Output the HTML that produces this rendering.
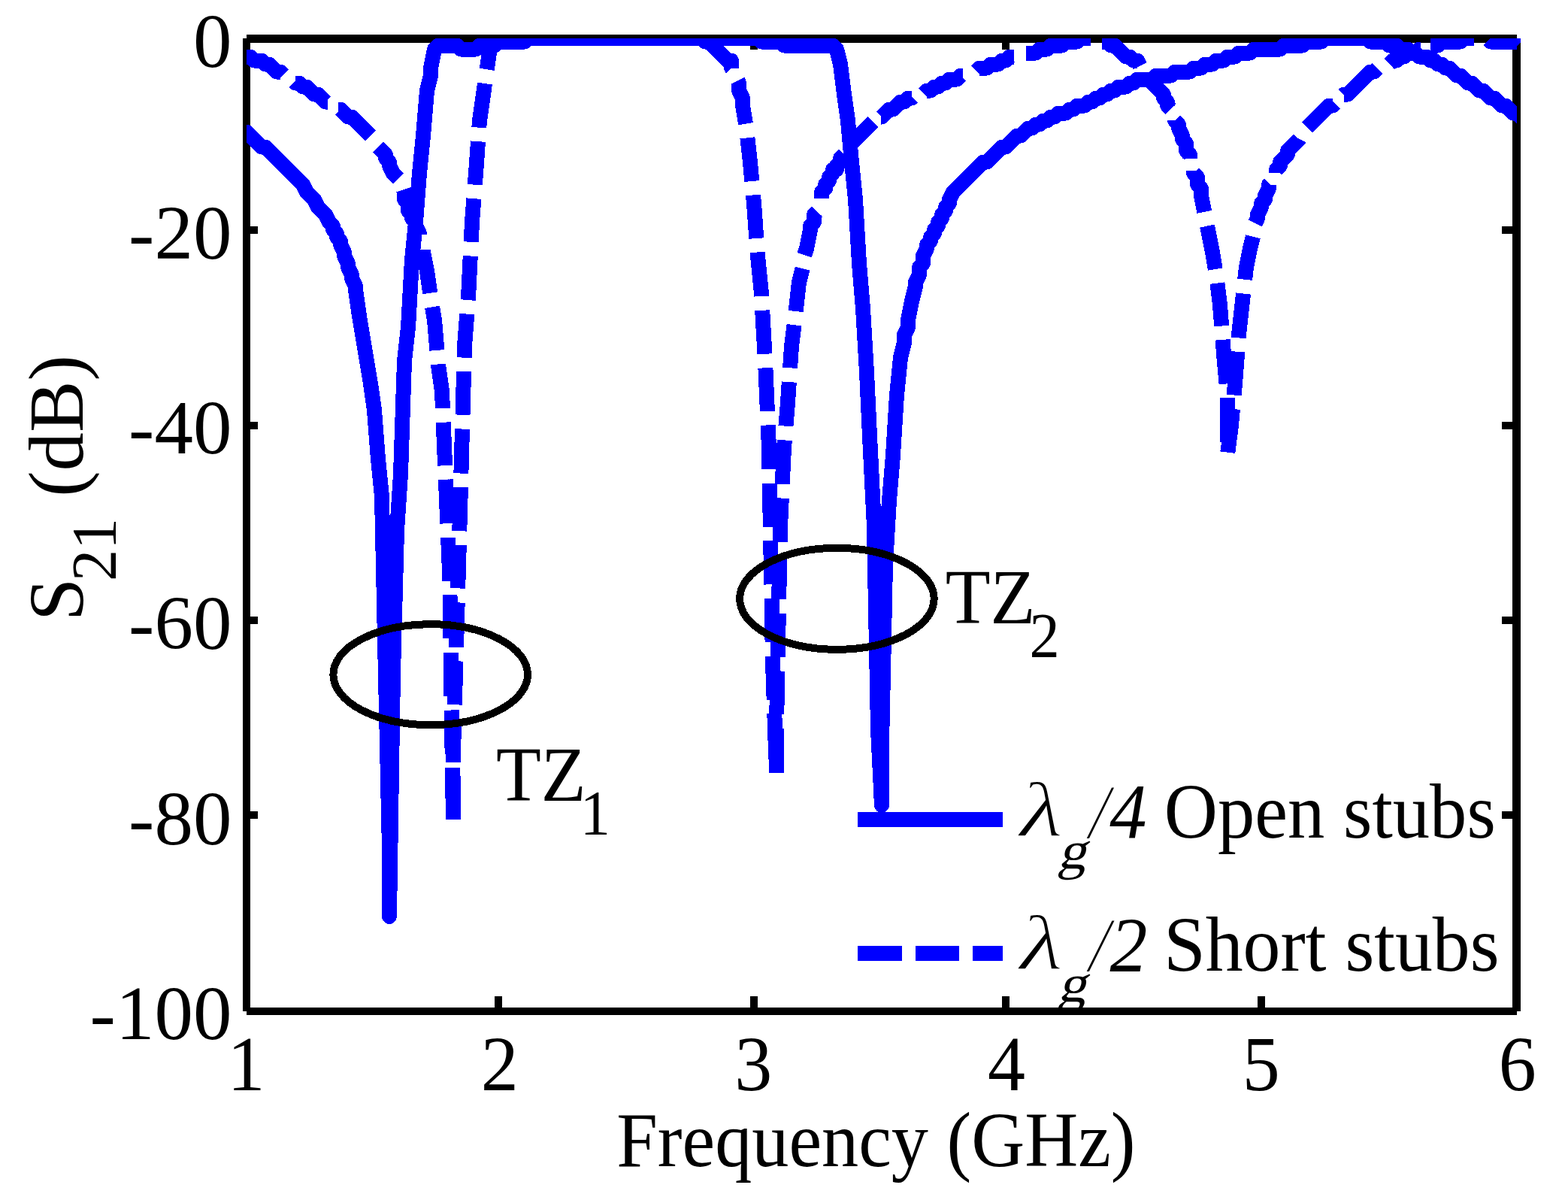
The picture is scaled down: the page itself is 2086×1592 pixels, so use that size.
<!DOCTYPE html>
<html lang="en"><head><meta charset="utf-8">
<style>
html,body{margin:0;padding:0;background:#fff;}
body{width:2086px;height:1592px;overflow:hidden;}
svg{display:block;}
text{font-family:"Liberation Serif","DejaVu Serif",serif;fill:#000;}
.t{font-size:100px;}
.s{font-size:82px;}
.i{font-style:italic;}
</style></head><body>
<svg width="2086" height="1592" viewBox="0 0 2086 1592">
<rect x="0" y="0" width="2086" height="1592" fill="#fff"/>
<defs><clipPath id="ax"><rect x="328" y="51" width="1690" height="1294"/></clipPath><clipPath id="lg"><rect x="328" y="51" width="1690" height="1294"/></clipPath></defs>
<g clip-path="url(#lg)">
<text class="t i" transform="translate(1356.4,1111.6) scale(1.34,1.045)" stroke="#fff" stroke-width="2.2" vector-effect="non-scaling-stroke">λ</text>
<text class="t" transform="translate(1406.7,1154.9) skewX(-14) scale(0.76,0.71)">g</text>
<text class="t" transform="translate(1448.8,1113.8) scale(0.986,1.03)"><tspan class="i" x="0" y="1" stroke="#fff" stroke-width="1.8">/</tspan><tspan class="i" y="1">4</tspan> <tspan x="101.5" y="0">Open stubs</tspan></text>
<text class="t i" transform="translate(1356.4,1289.0) scale(1.34,1.045)" stroke="#fff" stroke-width="2.2" vector-effect="non-scaling-stroke">λ</text>
<text class="t" transform="translate(1406.7,1332.3) skewX(-14) scale(0.76,0.71)">g</text>
<text class="t" transform="translate(1448.8,1291.2) scale(0.998,1.03)"><tspan class="i" x="0" y="1" stroke="#fff" stroke-width="1.8">/</tspan><tspan class="i" y="1">2</tspan> <tspan x="99.6" y="0">Short stubs</tspan></text>
</g>
<g shape-rendering="crispEdges" fill="#000">
<rect x="323" y="51" width="10" height="1294"/>
<rect x="328" y="46" width="1690" height="11"/>
<rect x="2012" y="51" width="11" height="1294"/>
<rect x="328" y="1340" width="1690" height="10"/>
<rect x="658" y="1325" width="10" height="16"/>
<rect x="658" y="56" width="10" height="10"/>
<rect x="998" y="1325" width="10" height="16"/>
<rect x="998" y="56" width="10" height="10"/>
<rect x="1333" y="1325" width="10" height="16"/>
<rect x="1333" y="56" width="10" height="10"/>
<rect x="1673" y="1325" width="10" height="16"/>
<rect x="1673" y="56" width="10" height="10"/>
<rect x="332" y="301" width="11" height="10"/>
<rect x="1998" y="301" width="15" height="10"/>
<rect x="332" y="561" width="11" height="10"/>
<rect x="1998" y="561" width="15" height="10"/>
<rect x="332" y="820" width="11" height="10"/>
<rect x="1998" y="820" width="15" height="10"/>
<rect x="332" y="1079" width="11" height="10"/>
<rect x="1998" y="1079" width="15" height="10"/>
</g>
<g clip-path="url(#ax)" fill="none" stroke="#0000ff" stroke-width="20" stroke-linejoin="round" shape-rendering="crispEdges">
<path d="M323.0,175.5 L328.0,175.5 L333.0,180.5 L338.0,185.5 L343.0,190.5 L348.0,195.5 L353.0,195.5 L358.0,200.5 L363.0,205.5 L368.0,210.5 L373.0,215.5 L378.0,220.5 L383.0,225.5 L388.0,230.5 L393.0,235.5 L398.0,240.5 L403.0,245.5 L408.0,255.5 L413.0,260.5 L418.0,265.5 L423.0,275.5 L428.0,280.5 L433.0,285.5 L438.0,295.5 L443.0,300.5 L443.0,305.5 L448.0,310.5 L448.0,315.5 L453.0,320.5 L453.0,325.5 L458.0,335.5 L458.0,340.5 L463.0,350.5 L463.0,355.5 L468.0,365.5 L468.0,370.5 L473.0,380.5 L473.0,385.5 L478.0,420.5 L483.0,450.5 L488.0,480.5 L493.0,510.5 L498.0,545.5 L503.0,610.5 L508.0,660.5 L513.0,900.5 L518.0,1130.5 L518.0,1219.0 L523.0,895.5 L528.0,705.5 L533.0,630.5 L538.0,480.5 L543.0,435.5 L548.0,345.5 L553.0,295.5 L558.0,230.5 L563.0,180.5 L568.0,120.5 L573.0,100.5 L573.0,90.5 L578.0,65.5 L583.0,60.5 L588.0,60.5 L593.0,60.5 L598.0,60.5 L603.0,60.5 L608.0,60.5 L613.0,65.5 L618.0,65.5 L623.0,65.5 L628.0,65.5 L633.0,65.5 L638.0,60.5 L643.0,60.5 L648.0,60.5 L653.0,60.5 L658.0,60.5 L663.0,55.5 L668.0,55.5 L673.0,55.5 L678.0,55.5 L683.0,55.5 L688.0,55.5 L693.0,55.5 L698.0,55.5 L703.0,50.5 L708.0,50.5 L713.0,50.5 L718.0,50.5 L723.0,50.5 L728.0,50.5 L733.0,50.5 L738.0,50.5 L743.0,50.5 L748.0,50.5 L753.0,50.5 L758.0,50.5 L763.0,50.5 L768.0,50.5 L773.0,50.5 L778.0,50.5 L783.0,50.5 L788.0,50.5 L793.0,50.5 L798.0,50.5 L803.0,50.5 L808.0,50.5 L813.0,50.5 L818.0,50.5 L823.0,50.5 L828.0,50.5 L833.0,50.5 L838.0,50.5 L843.0,50.5 L848.0,50.5 L853.0,50.5 L858.0,50.5 L863.0,50.5 L868.0,50.5 L873.0,50.5 L878.0,50.5 L883.0,50.5 L888.0,50.5 L893.0,50.5 L898.0,50.5 L903.0,50.5 L908.0,50.5 L913.0,50.5 L918.0,50.5 L923.0,50.5 L928.0,50.5 L933.0,50.5 L938.0,50.5 L943.0,50.5 L948.0,50.5 L953.0,50.5 L958.0,50.5 L963.0,50.5 L968.0,50.5 L973.0,50.5 L978.0,50.5 L983.0,50.5 L988.0,50.5 L993.0,50.5 L998.0,50.5 L1003.0,50.5 L1008.0,50.5 L1013.0,55.5 L1018.0,55.5 L1023.0,55.5 L1028.0,55.5 L1033.0,55.5 L1038.0,55.5 L1043.0,60.5 L1048.0,60.5 L1053.0,60.5 L1058.0,60.5 L1063.0,60.5 L1068.0,60.5 L1073.0,60.5 L1078.0,60.5 L1083.0,60.5 L1088.0,60.5 L1093.0,60.5 L1098.0,60.5 L1103.0,60.5 L1108.0,60.5 L1113.0,65.5 L1118.0,85.5 L1123.0,125.5 L1128.0,160.5 L1133.0,215.5 L1138.0,265.5 L1143.0,350.5 L1148.0,410.5 L1153.0,495.5 L1158.0,600.5 L1163.0,700.5 L1168.0,970.5 L1173.0,1071.0 L1173.0,990.5 L1178.0,750.5 L1183.0,665.5 L1188.0,605.5 L1193.0,525.5 L1198.0,475.5 L1203.0,455.5 L1203.0,445.5 L1208.0,435.5 L1208.0,425.5 L1213.0,400.5 L1218.0,380.5 L1218.0,375.5 L1223.0,365.5 L1223.0,355.5 L1228.0,350.5 L1228.0,340.5 L1233.0,330.5 L1233.0,325.5 L1238.0,320.5 L1238.0,315.5 L1243.0,310.5 L1243.0,305.5 L1248.0,300.5 L1248.0,295.5 L1253.0,290.5 L1253.0,285.5 L1258.0,280.5 L1258.0,275.5 L1263.0,270.5 L1263.0,265.5 L1268.0,255.5 L1273.0,250.5 L1278.0,245.5 L1283.0,240.5 L1288.0,235.5 L1293.0,230.5 L1298.0,225.5 L1303.0,220.5 L1308.0,215.5 L1313.0,215.5 L1318.0,210.5 L1323.0,205.5 L1328.0,200.5 L1333.0,195.5 L1338.0,195.5 L1343.0,190.5 L1348.0,185.5 L1353.0,180.5 L1358.0,180.5 L1363.0,175.5 L1368.0,170.5 L1373.0,170.5 L1378.0,165.5 L1383.0,165.5 L1388.0,160.5 L1393.0,160.5 L1398.0,155.5 L1403.0,155.5 L1408.0,150.5 L1413.0,150.5 L1418.0,150.5 L1423.0,145.5 L1428.0,145.5 L1433.0,140.5 L1438.0,140.5 L1443.0,140.5 L1448.0,135.5 L1453.0,135.5 L1458.0,130.5 L1463.0,130.5 L1468.0,125.5 L1473.0,125.5 L1478.0,120.5 L1483.0,120.5 L1488.0,115.5 L1493.0,115.5 L1498.0,115.5 L1503.0,110.5 L1508.0,110.5 L1513.0,105.5 L1518.0,105.5 L1523.0,105.5 L1528.0,105.5 L1533.0,105.5 L1538.0,100.5 L1543.0,100.5 L1548.0,100.5 L1553.0,100.5 L1558.0,100.5 L1563.0,95.5 L1568.0,95.5 L1573.0,95.5 L1578.0,95.5 L1583.0,95.5 L1588.0,90.5 L1593.0,90.5 L1598.0,90.5 L1603.0,85.5 L1608.0,85.5 L1613.0,85.5 L1618.0,80.5 L1623.0,80.5 L1628.0,80.5 L1633.0,75.5 L1638.0,75.5 L1643.0,75.5 L1648.0,70.5 L1653.0,70.5 L1658.0,70.5 L1663.0,70.5 L1668.0,65.5 L1673.0,65.5 L1678.0,65.5 L1683.0,65.5 L1688.0,65.5 L1693.0,65.5 L1698.0,65.5 L1703.0,65.5 L1708.0,60.5 L1713.0,60.5 L1718.0,60.5 L1723.0,60.5 L1728.0,60.5 L1733.0,60.5 L1738.0,55.5 L1743.0,55.5 L1748.0,55.5 L1753.0,55.5 L1758.0,55.5 L1763.0,50.5 L1768.0,50.5 L1773.0,50.5 L1778.0,50.5 L1783.0,50.5 L1788.0,50.5 L1793.0,50.5 L1798.0,50.5 L1803.0,50.5 L1808.0,50.5 L1813.0,50.5 L1818.0,50.5 L1823.0,55.5 L1828.0,55.5 L1833.0,55.5 L1838.0,55.5 L1843.0,55.5 L1848.0,60.5 L1853.0,60.5 L1858.0,60.5 L1863.0,65.5 L1868.0,65.5 L1873.0,65.5 L1878.0,70.5 L1883.0,70.5 L1888.0,75.5 L1893.0,75.5 L1898.0,75.5 L1903.0,80.5 L1908.0,80.5 L1913.0,85.5 L1918.0,85.5 L1923.0,90.5 L1928.0,90.5 L1933.0,95.5 L1938.0,100.5 L1943.0,100.5 L1948.0,105.5 L1953.0,110.5 L1958.0,110.5 L1963.0,115.5 L1968.0,120.5 L1973.0,120.5 L1978.0,125.5 L1983.0,130.5 L1988.0,130.5 L1993.0,135.5 L1998.0,140.5 L2003.0,140.5 L2008.0,145.5 L2013.0,150.5 L2018.0,150.5 L2023.0,155.5 L2028.0,160.5"/>
<path d="M328.0,75.5 L328.0,75.5 L333.0,75.5 L338.0,80.5 L343.0,80.5 L348.0,80.5 L353.0,85.5 L358.0,85.5 L363.0,90.5 L368.0,95.5 L373.0,95.5 L378.0,100.5 L383.0,100.5 L388.0,105.5 L391.5,109.0" stroke-dasharray="58.6 18.8"/>
<path d="M391.5,109.0 L393.0,110.5 L398.0,110.5 L403.0,115.5 L408.0,115.5 L413.0,120.5 L418.0,125.5 L423.0,125.5 L428.0,130.5 L433.0,135.5 L438.0,135.5 L443.0,140.5 L448.0,145.5 L449.6,145.5" stroke-dasharray="55.5 17.7"/>
<path d="M449.6,145.5 L453.0,145.5 L458.0,150.5 L463.0,155.5 L468.0,155.5 L473.0,160.5 L478.0,165.5 L483.0,170.5 L488.0,175.5 L493.0,180.5 L498.0,185.5 L503.0,195.5 L503.2,195.7" stroke-dasharray="57.9 18.5"/>
<path d="M503.2,195.7 L508.0,200.5 L513.0,205.5 L513.0,210.5 L518.0,215.5 L518.0,220.5 L523.0,230.5 L528.0,235.5 L533.0,240.5 L536.9,252.2" stroke-dasharray="52.0 16.6"/>
<path d="M536.9,252.2 L538.0,255.5 L538.0,265.5 L543.0,270.5 L543.0,280.5 L548.0,285.5 L548.0,290.5 L553.0,295.5 L553.0,300.5 L558.0,310.5 L558.0,315.5 L563.0,325.5 L563.0,331.7" stroke-dasharray="66.9 21.4"/>
<path d="M563.0,331.7 L563.0,335.5 L568.0,360.5 L573.0,395.5 L575.1,408.3" stroke-dasharray="58.8 18.8"/>
<path d="M575.1,408.3 L578.0,425.5 L582.9,484.4" stroke-dasharray="58.0 18.6"/>
<path d="M582.9,484.4 L583.0,485.5 L588.0,520.5 L589.7,561.7" stroke-dasharray="58.9 18.8"/>
<path d="M589.7,561.7 L592.9,637.7" stroke-dasharray="57.6 18.4"/>
<path d="M592.9,637.7 L593.0,640.5 L596.1,715.0" stroke-dasharray="58.6 18.8"/>
<path d="M596.1,715.0 L598.0,760.5 L598.5,791.1" stroke-dasharray="57.7 18.5"/>
<path d="M598.5,791.1 L599.6,867.8" stroke-dasharray="58.1 18.6"/>
<path d="M599.6,867.8 L600.8,944.5" stroke-dasharray="58.1 18.6"/>
<path d="M600.8,944.5 L601.9,1021.2" stroke-dasharray="58.1 18.6"/>
<path d="M601.9,1021.2 L603.0,1094.4 L603.0,1090.3" stroke-dasharray="58.6 18.7"/>
<path d="M603.0,1090.3 L603.0,1013.8" stroke-dasharray="58.0 18.5"/>
<path d="M603.0,1013.8 L603.0,1000.5 L604.8,937.3" stroke-dasharray="58.0 18.5"/>
<path d="M604.8,937.3 L607.0,860.8" stroke-dasharray="58.0 18.5"/>
<path d="M607.0,860.8 L608.0,825.5 L609.2,782.4" stroke-dasharray="59.4 19.0"/>
<path d="M609.2,782.4 L611.3,706.3" stroke-dasharray="57.7 18.5"/>
<path d="M611.3,706.3 L613.0,645.5 L613.4,629.5" stroke-dasharray="58.2 18.6"/>
<path d="M613.4,629.5 L615.5,551.7" stroke-dasharray="59.0 18.9"/>
<path d="M615.5,551.7 L617.6,475.6" stroke-dasharray="57.7 18.5"/>
<path d="M617.6,475.6 L618.0,460.5 L622.7,399.1" stroke-dasharray="58.1 18.6"/>
<path d="M622.7,399.1 L623.0,395.5 L626.7,321.8" stroke-dasharray="58.7 18.8"/>
<path d="M626.7,321.8 L628.0,295.5 L631.8,245.7" stroke-dasharray="57.8 18.5"/>
<path d="M631.8,245.7 L633.0,230.5 L637.3,169.7" stroke-dasharray="57.7 18.5"/>
<path d="M637.3,169.7 L638.0,160.5 L643.0,125.5 L647.7,92.3" stroke-dasharray="59.2 18.9"/>
<path d="M647.7,92.3 L648.0,90.5 L653.0,55.5 L658.0,50.5 L663.0,50.5 L668.0,50.5 L673.0,50.5 L678.0,50.5 L683.0,50.5 L688.0,50.5 L693.0,50.5 L698.0,50.5 L703.0,50.5 L708.0,50.5 L713.0,50.5 L718.0,50.5 L723.0,50.5 L728.0,50.5 L733.0,50.5 L738.0,50.5 L743.0,50.5 L748.0,50.5 L753.0,50.5 L758.0,50.5 L763.0,50.5 L768.0,50.5 L773.0,50.5 L778.0,50.5 L783.0,50.5 L788.0,50.5 L793.0,50.5 L798.0,50.5 L803.0,50.5 L808.0,50.5 L813.0,50.5 L818.0,50.5 L823.0,50.5 L828.0,50.5 L833.0,50.5 L838.0,50.5 L843.0,50.5 L848.0,50.5 L853.0,50.5 L858.0,50.5 L863.0,50.5 L868.0,50.5 L873.0,50.5 L878.0,50.5 L883.0,50.5 L888.0,50.5 L893.0,50.5 L898.0,50.5 L903.0,50.5 L908.0,50.5 L913.0,50.5 L918.0,50.5 L923.0,50.5 L928.0,50.5 L933.0,50.5 L938.0,55.5 L943.0,55.5 L948.0,60.5 L953.0,65.5 L958.0,70.5 L963.0,75.5 L968.0,80.5 L973.0,80.5 L973.0,90.5 L978.0,95.5 L978.0,100.5 L981.4,107.3" stroke-dasharray="60.8 19.5"/>
<path d="M981.4,107.3 L983.0,110.5 L983.0,120.5 L988.0,130.5 L988.0,140.5 L993.0,170.5 L994.4,183.4" stroke-dasharray="59.2 18.9"/>
<path d="M994.4,183.4 L998.0,215.5 L1002.0,259.4" stroke-dasharray="57.9 18.5"/>
<path d="M1002.0,259.4 L1003.0,270.5 L1007.6,335.5" stroke-dasharray="57.8 18.5"/>
<path d="M1007.6,335.5 L1008.0,340.5 L1013.0,390.5 L1014.2,412.8" stroke-dasharray="58.8 18.8"/>
<path d="M1014.2,412.8 L1018.0,480.5 L1018.4,489.3" stroke-dasharray="58.1 18.6"/>
<path d="M1018.4,489.3 L1021.7,565.4" stroke-dasharray="57.7 18.5"/>
<path d="M1021.7,565.4 L1023.0,595.5 L1023.8,642.7" stroke-dasharray="58.6 18.7"/>
<path d="M1023.8,642.7 L1025.2,719.3" stroke-dasharray="58.1 18.6"/>
<path d="M1025.2,719.3 L1026.5,795.9" stroke-dasharray="58.1 18.6"/>
<path d="M1026.5,795.9 L1027.9,872.5" stroke-dasharray="58.1 18.6"/>
<path d="M1027.9,872.5 L1028.0,880.5 L1030.3,949.1" stroke-dasharray="58.1 18.6"/>
<path d="M1030.3,949.1 L1033.0,1028.5 L1033.0,1027.7" stroke-dasharray="60.8 19.4"/>
<path d="M1033.0,1027.7 L1033.0,965.5 L1033.3,950.0" stroke-dasharray="58.9 18.8"/>
<path d="M1033.3,950.0 L1034.7,874.0" stroke-dasharray="57.6 18.4"/>
<path d="M1034.7,874.0 L1036.2,797.3" stroke-dasharray="58.1 18.6"/>
<path d="M1036.2,797.3 L1037.6,720.6" stroke-dasharray="58.1 18.6"/>
<path d="M1037.6,720.6 L1038.0,700.5 L1040.7,644.0" stroke-dasharray="58.1 18.6"/>
<path d="M1040.7,644.0 L1043.0,595.5 L1045.4,566.7" stroke-dasharray="58.7 18.8"/>
<path d="M1045.4,566.7 L1048.0,535.5 L1051.1,489.3" stroke-dasharray="58.8 18.8"/>
<path d="M1051.1,489.3 L1053.0,460.5 L1058.0,420.5 L1058.7,414.0" stroke-dasharray="57.4 18.4"/>
<path d="M1058.7,414.0 L1063.0,375.5 L1068.0,355.5 L1068.0,345.5 L1070.1,339.2" stroke-dasharray="57.6 18.4"/>
<path d="M1070.1,339.2 L1073.0,330.5 L1078.0,305.5 L1078.0,300.5 L1083.0,295.5 L1083.0,285.5 L1088.0,280.5 L1088.0,270.5 L1093.0,265.5 L1093.0,264.4" stroke-dasharray="62.1 19.9"/>
<path d="M1093.0,264.4 L1093.0,255.5 L1098.0,250.5 L1098.0,245.5 L1103.0,240.5 L1103.0,235.5 L1108.0,230.5 L1108.0,225.5 L1113.0,225.5 L1113.0,220.5 L1118.0,215.5 L1118.0,210.5 L1123.0,205.5 L1123.0,200.5 L1128.0,200.5 L1128.0,195.5 L1133.0,190.5 L1133.9,189.6" stroke-dasharray="74.0 23.7"/>
<path d="M1133.9,189.6 L1138.0,185.5 L1143.0,180.5 L1148.0,175.5 L1153.0,170.5 L1158.0,165.5 L1163.0,160.5 L1168.0,155.5 L1171.6,155.5" stroke-dasharray="39.3 12.6"/>
<path d="M1171.6,155.5 L1173.0,155.5 L1178.0,150.5 L1183.0,145.5 L1188.0,145.5 L1193.0,140.5 L1198.0,135.5 L1203.0,135.5 L1208.0,130.5 L1213.0,130.5 L1218.0,125.5 L1223.0,125.5 L1228.0,125.5 L1229.0,124.5" stroke-dasharray="53.2 17.0"/>
<path d="M1229.0,124.5 L1233.0,120.5 L1238.0,120.5 L1243.0,115.5 L1248.0,115.5 L1253.0,110.5 L1258.0,110.5 L1263.0,105.5 L1268.0,105.5 L1273.0,105.5 L1278.0,100.5 L1283.0,100.5 L1288.0,95.5 L1293.0,95.5 L1298.0,95.5 L1298.8,94.7" stroke-dasharray="62.2 19.9"/>
<path d="M1298.8,94.7 L1303.0,90.5 L1308.0,90.5 L1313.0,90.5 L1318.0,85.5 L1323.0,85.5 L1328.0,85.5 L1333.0,80.5 L1338.0,80.5 L1343.0,75.5 L1348.0,75.5 L1353.0,75.5 L1358.0,75.5 L1363.0,70.5 L1364.9,70.5" stroke-dasharray="57.7 18.4"/>
<path d="M1364.9,70.5 L1368.0,70.5 L1373.0,70.5 L1378.0,70.5 L1383.0,65.5 L1388.0,65.5 L1393.0,65.5 L1398.0,60.5 L1403.0,60.5 L1408.0,60.5 L1413.0,60.5 L1418.0,55.5 L1423.0,55.5 L1428.0,55.5 L1433.0,55.5 L1438.0,50.5 L1443.0,50.5 L1448.0,50.5 L1453.0,50.5 L1458.0,50.5 L1463.0,55.5 L1466.0,55.5" stroke-dasharray="94.7 16.7"/>
<path d="M1466.0,55.5 L1468.0,55.5 L1473.0,55.5 L1478.0,60.5 L1483.0,60.5 L1488.0,65.5 L1493.0,70.5 L1498.0,75.5 L1503.0,75.5 L1508.0,80.5 L1513.0,80.5 L1518.0,90.5 L1523.0,95.5 L1528.0,100.5 L1529.5,103.5" stroke-dasharray="65.2 20.8"/>
<path d="M1529.5,103.5 L1533.0,110.5 L1538.0,115.5 L1543.0,120.5 L1548.0,125.5 L1548.0,130.5 L1553.0,135.5 L1553.0,140.5 L1558.0,145.5 L1558.0,150.5 L1563.0,155.5 L1563.0,159.7" stroke-dasharray="52.6 16.8"/>
<path d="M1563.0,159.7 L1563.0,160.5 L1568.0,165.5 L1568.0,170.5 L1573.0,180.5 L1573.0,185.5 L1578.0,190.5 L1578.0,200.5 L1583.0,205.5 L1583.0,215.5 L1588.0,220.5 L1588.0,227.0" stroke-dasharray="58.2 18.6"/>
<path d="M1588.0,227.0 L1588.0,230.5 L1593.0,235.5 L1593.0,245.5 L1598.0,250.5 L1598.0,260.5 L1603.0,285.5 L1606.0,300.6" stroke-dasharray="59.5 19.0"/>
<path d="M1606.0,300.6 L1608.0,310.5 L1613.0,335.5 L1618.0,365.5 L1619.4,376.6" stroke-dasharray="58.5 18.7"/>
<path d="M1619.4,376.6 L1623.0,405.5 L1626.6,451.9" stroke-dasharray="57.3 18.3"/>
<path d="M1626.6,451.9 L1628.0,470.5 L1633.0,525.5 L1633.0,529.2" stroke-dasharray="58.8 18.8"/>
<path d="M1633.0,529.2 L1633.0,604.0 L1633.3,601.6" stroke-dasharray="58.5 18.7"/>
<path d="M1633.3,601.6 L1638.0,565.5 L1641.6,525.5" stroke-dasharray="58.0 18.6"/>
<path d="M1641.6,525.5 L1643.0,510.5 L1647.7,449.4" stroke-dasharray="57.9 18.5"/>
<path d="M1647.7,449.4 L1648.0,445.5 L1653.0,400.5 L1656.2,371.7" stroke-dasharray="59.2 18.9"/>
<path d="M1656.2,371.7 L1658.0,355.5 L1663.0,330.5 L1668.0,310.5 L1668.0,300.5 L1669.8,296.8" stroke-dasharray="58.0 18.6"/>
<path d="M1669.8,296.8 L1673.0,290.5 L1673.0,285.5 L1678.0,275.5 L1678.0,270.5 L1683.0,265.5 L1683.0,260.5 L1688.0,250.5 L1688.0,245.5 L1693.0,240.5 L1693.0,235.5 L1698.0,230.5 L1698.0,229.5" stroke-dasharray="58.1 18.6"/>
<path d="M1698.0,229.5 L1698.0,225.5 L1703.0,220.5 L1703.0,215.5 L1708.0,210.5 L1713.0,205.5 L1713.0,200.5 L1718.0,195.5 L1723.0,190.5 L1728.0,185.5 L1733.0,175.5 L1738.0,170.5 L1738.8,169.7" stroke-dasharray="57.4 18.4"/>
<path d="M1738.8,169.7 L1743.0,165.5 L1748.0,160.5 L1753.0,155.5 L1758.0,150.5 L1763.0,145.5 L1768.0,140.5 L1773.0,140.5 L1778.0,135.5 L1783.0,130.5 L1787.5,126.0" stroke-dasharray="50.6 16.2"/>
<path d="M1787.5,126.0 L1788.0,125.5 L1793.0,125.5 L1798.0,120.5 L1803.0,115.5 L1808.0,110.5 L1813.0,105.5 L1818.0,100.5 L1823.0,95.5 L1828.0,95.5 L1833.0,90.5 L1838.0,90.5 L1843.0,85.5 L1848.0,85.5 L1848.6,84.9" stroke-dasharray="59.2 18.9"/>
<path d="M1848.6,84.9 L1853.0,80.5 L1858.0,80.5 L1863.0,75.5 L1868.0,75.5 L1873.0,70.5 L1878.0,70.5 L1883.0,70.5 L1888.0,65.5 L1893.0,65.5 L1898.0,65.5 L1903.0,60.5 L1903.1,60.5" stroke-dasharray="49.0 15.7"/>
<path d="M1903.1,60.5 L1908.0,60.5 L1913.0,60.5 L1918.0,55.5 L1923.0,55.5 L1928.0,55.5 L1933.0,55.5 L1938.0,55.5 L1943.0,55.5 L1948.0,50.5 L1953.0,50.5 L1958.0,50.5 L1963.0,50.5 L1968.0,50.5 L1973.0,50.5 L1978.0,50.5 L1980.3,52.8" stroke-dasharray="62.4 19.9"/>
<path d="M1980.3,52.8 L1983.0,55.5 L1988.0,55.5 L1993.0,55.5 L1998.0,55.5 L2003.0,55.5 L2008.0,55.5 L2013.0,55.5 L2018.0,55.5 L2023.0,55.5 L2028.0,55.5" stroke-dasharray="48.8 0.0"/>
</g>
<polygon points="2012,51 2023,51 2023,56 2013,66 2012,66" fill="#0000ff" shape-rendering="crispEdges"/>
<g shape-rendering="crispEdges" fill="#0000ff">
<rect x="1141" y="1080" width="193" height="20"/>
<rect x="1141" y="1258" width="59" height="20"/>
<rect x="1218" y="1258" width="58" height="20"/>
<rect x="1294" y="1258" width="40" height="20"/>
</g>
<g fill="none" stroke="#000" stroke-width="10" shape-rendering="crispEdges">
<ellipse cx="572.7" cy="897.2" rx="129.3" ry="67"/>
<ellipse cx="1113.4" cy="796.3" rx="129.3" ry="67.5"/>
</g>
<text class="t" transform="translate(308.4,88.6) scale(1.03,1.025)" text-anchor="end">0</text>
<text class="t" transform="translate(308.4,343.9) scale(1.03,1.025)" text-anchor="end">-20</text>
<text class="t" transform="translate(308.4,602.7) scale(1.03,1.025)" text-anchor="end">-40</text>
<text class="t" transform="translate(308.4,862.7) scale(1.03,1.025)" text-anchor="end">-60</text>
<text class="t" transform="translate(308.4,1122.7) scale(1.03,1.025)" text-anchor="end">-80</text>
<text class="t" transform="translate(308.4,1382.2) scale(1.03,1.025)" text-anchor="end">-100</text>
<text class="t" transform="translate(327.5,1450) scale(1,1.03)" text-anchor="middle">1</text>
<text class="t" transform="translate(664.7,1450) scale(1,1.03)" text-anchor="middle">2</text>
<text class="t" transform="translate(1002.2,1450) scale(1,1.03)" text-anchor="middle">3</text>
<text class="t" transform="translate(1339,1450) scale(1,1.03)" text-anchor="middle">4</text>
<text class="t" transform="translate(1677.8,1450) scale(1,1.03)" text-anchor="middle">5</text>
<text class="t" transform="translate(2018.7,1450) scale(1,1.03)" text-anchor="middle">6</text>
<text class="t" transform="translate(820.2,1551) scale(0.983,1.03)">Frequency (GHz)</text>
<text class="t" transform="translate(109.5,826) rotate(-90) scale(1.027,1.03)"><tspan x="0" y="0">S</tspan><tspan class="s" x="51.6" y="42.9">21</tspan> <tspan x="161" y="0">(dB)</tspan></text>
<text class="t" transform="translate(660,1065) scale(0.98,1.028)"><tspan x="0" y="0">TZ</tspan><tspan class="s" x="114" y="43.7">1</tspan></text>
<text class="t" transform="translate(1257.7,828.8) scale(0.98,1.028)"><tspan x="0" y="0">TZ</tspan><tspan class="s" x="114.2" y="43.8">2</tspan></text>
</svg></body></html>
